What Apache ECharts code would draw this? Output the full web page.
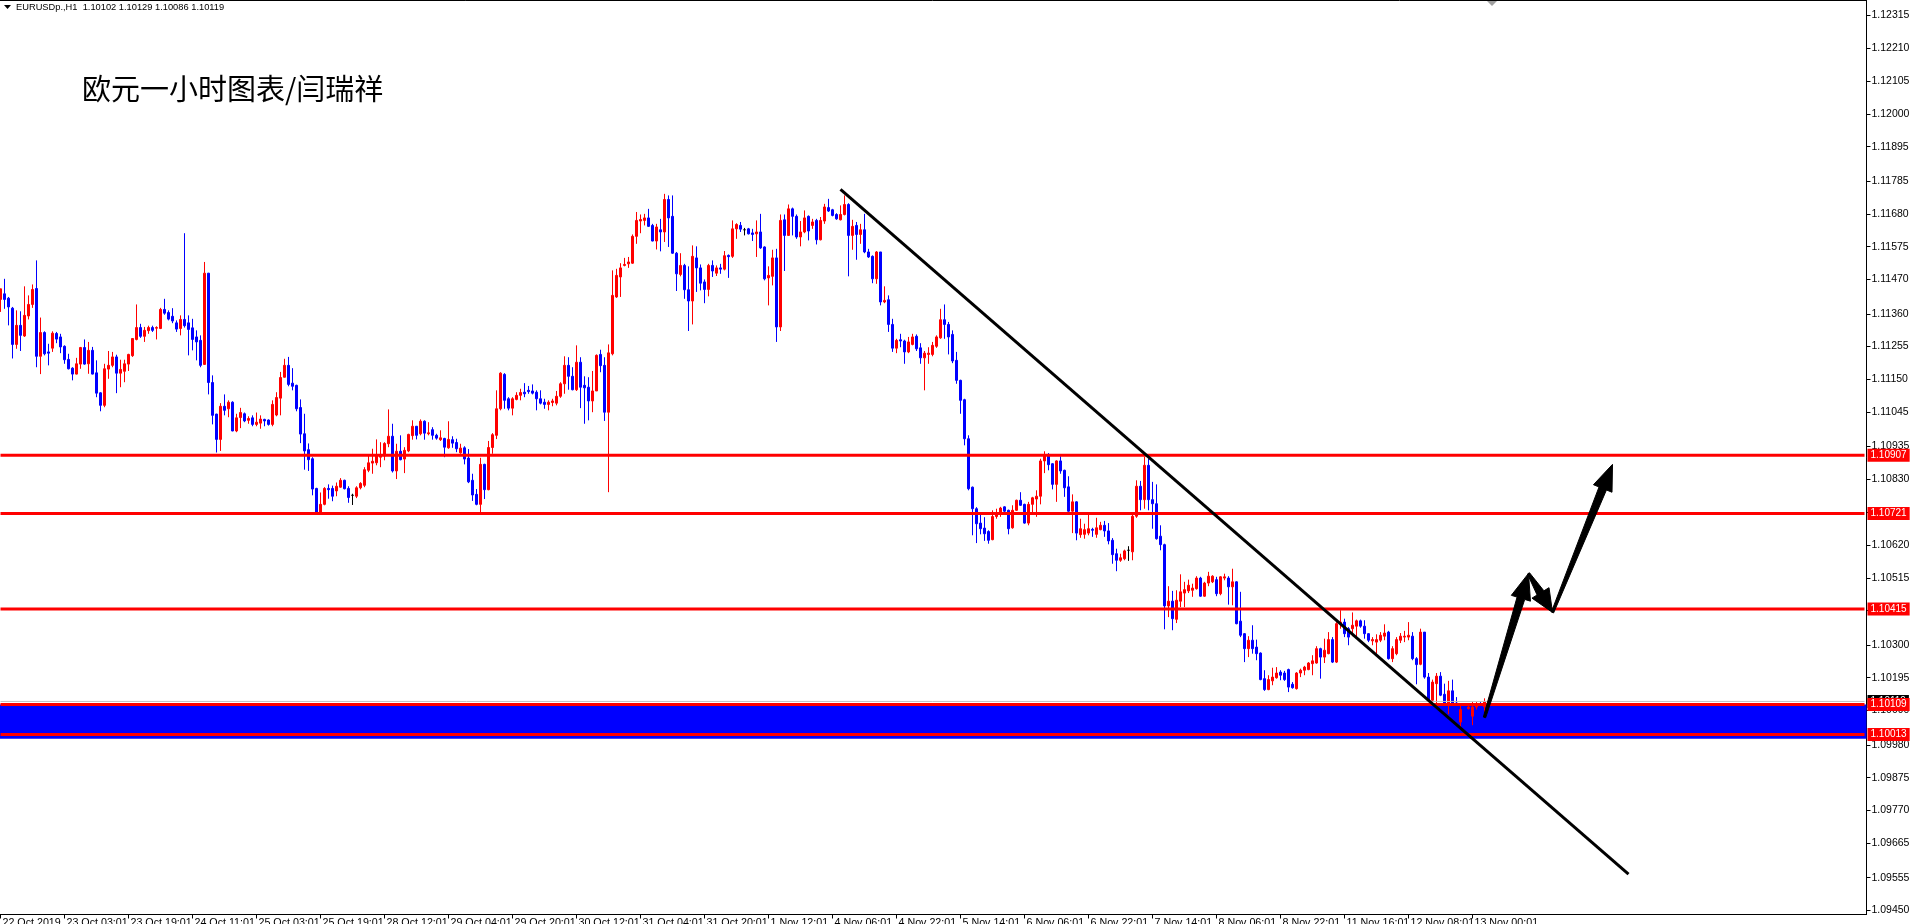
<!DOCTYPE html>
<html><head><meta charset="utf-8">
<script src="https://cdn.jsdelivr.net/npm/echarts@6.0.0/dist/echarts.min.js"></script>
<style>html,body{margin:0;padding:0;background:#fff;overflow:hidden}#c{width:1911px;height:924px}</style>
</head><body><div id="c"></div>
<script>
// ---- data (EURUSD H1) ----
const tickLabels = ['22 Oct 2019','23 Oct 03:01','23 Oct 19:01','24 Oct 11:01','25 Oct 03:01','25 Oct 19:01','28 Oct 12:01','29 Oct 04:01','29 Oct 20:01','30 Oct 12:01','31 Oct 04:01','31 Oct 20:01','1 Nov 12:01','4 Nov 06:01','4 Nov 22:01','5 Nov 14:01','6 Nov 06:01','6 Nov 22:01','7 Nov 14:01','8 Nov 06:01','8 Nov 22:01','11 Nov 16:01','12 Nov 08:01','13 Nov 00:01'];
const yTicks = [1.12315,1.12210,1.12105,1.12000,1.11895,1.11785,1.11680,1.11575,1.11470,1.11360,1.11255,1.11150,1.11045,1.10935,1.10830,1.10725,1.10620,1.10515,1.10410,1.10300,1.10195,1.10090,1.09980,1.09875,1.09770,1.09665,1.09555,1.09450];
const opens = [
1.11406,1.11424,1.11410,1.11378,1.11262,1.11323,1.11289,1.11353,1.11390,1.11441,
1.11224,1.11300,1.11238,1.11250,1.11297,1.11286,1.11256,1.11214,1.11186,1.11167,
1.11199,1.11252,1.11200,1.11243,1.11171,1.11107,1.11067,1.11183,1.11195,1.11222,
1.11170,1.11176,1.11199,1.11226,1.11278,1.11316,1.11288,1.11306,1.11316,1.11314,
1.11313,1.11374,1.11364,1.11352,1.11331,1.11313,1.11342,1.11331,1.11315,1.11286,
1.11275,1.11198,1.11490,1.11140,1.11039,1.10958,1.11064,1.11056,1.11077,1.10985,
1.11028,1.11040,1.11019,1.11027,1.11006,1.11010,1.11022,1.11020,1.11006,1.11036,
1.11090,1.11157,1.11195,1.11138,1.11131,1.11060,1.10976,1.10925,1.10896,1.10801,
1.10720,1.10750,1.10801,1.10801,1.10793,1.10805,1.10827,1.10801,1.10779,1.10776,
1.10803,1.10811,1.10859,1.10882,1.10883,1.10901,1.10905,1.10944,1.10968,1.10857,
1.10920,1.10895,1.10921,1.10970,1.11000,1.10976,1.11016,1.10976,1.10989,1.10971,
1.10957,1.10961,1.10931,1.10957,1.10948,1.10915,1.10931,1.10898,1.10827,1.10782,
1.10750,1.10878,1.10797,1.10932,1.10971,1.11056,1.11166,1.11088,1.11058,1.11086,
1.11099,1.11109,1.11115,1.11113,1.11109,1.11088,1.11077,1.11070,1.11076,1.11074,
1.11096,1.11136,1.11195,1.11160,1.11117,1.11205,1.11131,1.11125,1.11081,1.11113,
1.11230,1.11195,1.11045,1.11232,1.11414,1.11478,1.11515,1.11520,1.11522,1.11608,
1.11657,1.11659,1.11667,1.11643,1.11593,1.11629,1.11622,1.11726,1.11672,1.11554,
1.11486,1.11515,1.11437,1.11401,1.11539,1.11507,1.11462,1.11438,1.11515,1.11490,
1.11507,1.11503,1.11547,1.11544,1.11632,1.11643,1.11629,1.11632,1.11619,1.11616,
1.11622,1.11574,1.11475,1.11480,1.11539,1.11318,1.11661,1.11611,1.11696,1.11672,
1.11606,1.11622,1.11672,1.11643,1.11659,1.11597,1.11657,1.11700,1.11693,1.11678,
1.11661,1.11678,1.11710,1.11611,1.11643,1.11614,1.11629,1.11558,1.11544,1.11472,
1.11558,1.11398,1.11405,1.11326,1.11250,1.11277,1.11273,1.11238,1.11262,1.11288,
1.11251,1.11219,1.11230,1.11230,1.11256,1.11283,1.11341,1.11326,1.11294,1.11211,
1.11147,1.11085,1.10960,1.10805,1.10736,1.10690,1.10674,1.10663,1.10637,1.10711,
1.10722,1.10742,1.10731,1.10675,1.10731,1.10763,1.10750,1.10690,1.10750,1.10767,
1.10776,1.10889,1.10907,1.10880,1.10814,1.10889,1.10859,1.10806,1.10728,1.10758,
1.10653,1.10654,1.10658,1.10670,1.10654,1.10669,1.10683,1.10665,1.10635,1.10592,
1.10571,1.10576,1.10603,1.10598,1.10712,1.10808,1.10765,1.10875,1.10765,1.10752,
1.10648,1.10621,1.10425,1.10440,1.10382,1.10440,1.10466,1.10473,1.10475,1.10480,
1.10514,1.10456,1.10498,1.10502,1.10509,1.10464,1.10514,1.10514,1.10486,1.10502,
1.10376,1.10336,1.10288,1.10315,1.10293,1.10274,1.10192,1.10157,1.10185,1.10195,
1.10213,1.10210,1.10221,1.10174,1.10160,1.10210,1.10219,1.10221,1.10240,1.10242,
1.10288,1.10261,1.10272,1.10317,1.10245,1.10368,1.10373,1.10352,1.10352,1.10360,
1.10377,1.10360,1.10336,1.10313,1.10309,1.10315,1.10328,1.10341,1.10256,1.10272,
1.10315,1.10325,1.10325,1.10328,1.10256,1.10238,1.10341,1.10197,1.10123,1.10176,
1.10200,1.10142,1.10112,1.10153,1.10114,1.10053,1.10101,1.10096,1.10072,1.10101,
1.10112,1.10102];
const closes = [
1.11440,1.11406,1.11382,1.11262,1.11323,1.11291,1.11355,1.11390,1.11438,1.11224,
1.11300,1.11232,1.11234,1.11298,1.11279,1.11254,1.11213,1.11184,1.11167,1.11200,
1.11252,1.11199,1.11243,1.11167,1.11106,1.11067,1.11184,1.11195,1.11222,1.11170,
1.11182,1.11200,1.11230,1.11281,1.11316,1.11288,1.11307,1.11316,1.11307,1.11316,
1.11374,1.11362,1.11343,1.11337,1.11311,1.11342,1.11322,1.11310,1.11278,1.11270,
1.11195,1.11490,1.11140,1.11035,1.10958,1.11064,1.11051,1.11077,1.10985,1.11027,
1.11044,1.11017,1.11025,1.11006,1.11013,1.11023,1.11017,1.11006,1.11070,1.11092,
1.11156,1.11195,1.11134,1.11128,1.11056,1.10975,1.10921,1.10893,1.10799,1.10720,
1.10750,1.10801,1.10797,1.10776,1.10808,1.10827,1.10800,1.10772,1.10779,1.10803,
1.10817,1.10861,1.10883,1.10888,1.10909,1.10905,1.10945,1.10968,1.10857,1.10920,
1.10893,1.10923,1.10974,1.11000,1.10971,1.11016,1.10978,1.10979,1.10971,1.10962,
1.10963,1.10933,1.10958,1.10946,1.10928,1.10930,1.10895,1.10822,1.10780,1.10750,
1.10878,1.10797,1.10932,1.10973,1.11056,1.11170,1.11083,1.11058,1.11088,1.11099,
1.11108,1.11104,1.11111,1.11106,1.11088,1.11074,1.11070,1.11077,1.11081,1.11096,
1.11136,1.11195,1.11160,1.11117,1.11205,1.11125,1.11123,1.11081,1.11113,1.11227,
1.11194,1.11045,1.11235,1.11419,1.11483,1.11507,1.11518,1.11526,1.11608,1.11659,
1.11662,1.11667,1.11640,1.11593,1.11638,1.11622,1.11726,1.11667,1.11554,1.11488,
1.11515,1.11437,1.11401,1.11544,1.11507,1.11458,1.11438,1.11515,1.11497,1.11507,
1.11503,1.11546,1.11543,1.11632,1.11646,1.11631,1.11629,1.11616,1.11614,1.11622,
1.11571,1.11472,1.11483,1.11539,1.11318,1.11659,1.11611,1.11696,1.11672,1.11606,
1.11622,1.11667,1.11625,1.11654,1.11597,1.11659,1.11702,1.11689,1.11675,1.11664,
1.11678,1.11710,1.11611,1.11640,1.11614,1.11629,1.11558,1.11542,1.11472,1.11558,
1.11398,1.11403,1.11326,1.11250,1.11275,1.11273,1.11238,1.11270,1.11286,1.11248,
1.11219,1.11234,1.11234,1.11259,1.11286,1.11341,1.11326,1.11286,1.11209,1.11147,
1.11083,1.10960,1.10800,1.10736,1.10688,1.10672,1.10656,1.10635,1.10711,1.10722,
1.10738,1.10728,1.10672,1.10731,1.10763,1.10747,1.10690,1.10750,1.10771,1.10776,
1.10889,1.10907,1.10877,1.10814,1.10889,1.10857,1.10803,1.10728,1.10758,1.10658,
1.10672,1.10669,1.10672,1.10667,1.10675,1.10683,1.10665,1.10633,1.10589,1.10571,
1.10579,1.10601,1.10603,1.10712,1.10808,1.10765,1.10875,1.10765,1.10752,1.10640,
1.10621,1.10425,1.10440,1.10384,1.10443,1.10470,1.10477,1.10491,1.10482,1.10514,
1.10456,1.10498,1.10520,1.10520,1.10464,1.10518,1.10518,1.10486,1.10502,1.10368,
1.10331,1.10288,1.10315,1.10288,1.10272,1.10189,1.10157,1.10189,1.10197,1.10210,
1.10203,1.10189,1.10165,1.10163,1.10210,1.10219,1.10229,1.10242,1.10249,1.10288,
1.10261,1.10283,1.10317,1.10245,1.10368,1.10373,1.10336,1.10325,1.10363,1.10377,
1.10360,1.10336,1.10315,1.10317,1.10317,1.10331,1.10338,1.10256,1.10288,1.10317,
1.10328,1.10328,1.10331,1.10256,1.10237,1.10341,1.10197,1.10123,1.10181,1.10200,
1.10139,1.10112,1.10153,1.10112,1.10101,1.10093,1.10093,1.10101,1.10101,1.10107,
1.10107,1.10119];
const lows = [
1.11366,1.11376,1.11323,1.11217,1.11248,1.11241,1.11286,1.11342,1.11379,1.11189,
1.11167,1.11227,1.11195,1.11238,1.11266,1.11234,1.11200,1.11182,1.11147,1.11166,
1.11184,1.11197,1.11168,1.11166,1.11093,1.11048,1.11061,1.11152,1.11189,1.11106,
1.11125,1.11141,1.11177,1.11222,1.11275,1.11283,1.11270,1.11296,1.11302,1.11278,
1.11311,1.11357,1.11339,1.11330,1.11302,1.11291,1.11316,1.11227,1.11243,1.11211,
1.11189,1.11197,1.11102,1.11006,1.10916,1.10921,1.11035,1.11029,1.10984,1.10981,
1.10994,1.11013,1.11008,1.11000,1.11000,1.10992,1.11000,1.11002,1.11000,1.11032,
1.11035,1.11156,1.11128,1.11115,1.11048,1.10946,1.10861,1.10857,1.10779,1.10716,
1.10719,1.10747,1.10768,1.10760,1.10776,1.10803,1.10798,1.10755,1.10748,1.10770,
1.10798,1.10805,1.10853,1.10848,1.10875,1.10869,1.10891,1.10933,1.10852,1.10831,
1.10891,1.10850,1.10917,1.10957,1.10958,1.10971,1.10957,1.10971,1.10957,1.10957,
1.10953,1.10901,1.10928,1.10931,1.10917,1.10912,1.10878,1.10818,1.10761,1.10747,
1.10725,1.10767,1.10795,1.10912,1.10959,1.11051,1.11056,1.11051,1.11035,1.11083,
1.11083,1.11093,1.11104,1.11102,1.11051,1.11070,1.11056,1.11051,1.11064,1.11067,
1.11091,1.11104,1.11117,1.11115,1.11113,1.11058,1.11008,1.11019,1.11045,1.11113,
1.11173,1.11017,1.10789,1.11227,1.11411,1.11414,1.11512,1.11507,1.11520,1.11584,
1.11618,1.11643,1.11638,1.11592,1.11566,1.11560,1.11590,1.11574,1.11552,1.11433,
1.11480,1.11408,1.11305,1.11326,1.11430,1.11435,1.11394,1.11416,1.11478,1.11481,
1.11488,1.11499,1.11475,1.11539,1.11600,1.11622,1.11611,1.11614,1.11593,1.11542,
1.11568,1.11467,1.11387,1.11451,1.11270,1.11305,1.11497,1.11609,1.11611,1.11600,
1.11576,1.11618,1.11595,1.11632,1.11582,1.11595,1.11648,1.11686,1.11672,1.11661,
1.11659,1.11675,1.11480,1.11565,1.11533,1.11584,1.11554,1.11539,1.11458,1.11456,
1.11387,1.11394,1.11302,1.11238,1.11234,1.11253,1.11200,1.11234,1.11259,1.11241,
1.11200,1.11115,1.11200,1.11224,1.11251,1.11280,1.11280,1.11230,1.11202,1.11136,
1.11040,1.10939,1.10795,1.10651,1.10626,1.10654,1.10633,1.10624,1.10635,1.10704,
1.10710,1.10723,1.10654,1.10672,1.10729,1.10745,1.10688,1.10683,1.10718,1.10710,
1.10750,1.10850,1.10859,1.10798,1.10758,1.10848,1.10774,1.10726,1.10658,1.10635,
1.10643,1.10640,1.10651,1.10646,1.10643,1.10667,1.10646,1.10622,1.10560,1.10536,
1.10566,1.10571,1.10569,1.10571,1.10707,1.10731,1.10736,1.10731,1.10672,1.10637,
1.10603,1.10350,1.10389,1.10347,1.10370,1.10421,1.10421,1.10466,1.10454,1.10477,
1.10454,1.10454,1.10488,1.10498,1.10456,1.10459,1.10507,1.10429,1.10427,1.10366,
1.10325,1.10245,1.10261,1.10272,1.10251,1.10187,1.10153,1.10155,1.10171,1.10192,
1.10187,1.10185,1.10149,1.10160,1.10157,1.10197,1.10203,1.10219,1.10203,1.10240,
1.10192,1.10242,1.10270,1.10242,1.10242,1.10352,1.10325,1.10299,1.10328,1.10325,
1.10355,1.10320,1.10309,1.10299,1.10272,1.10309,1.10315,1.10253,1.10245,1.10267,
1.10306,1.10309,1.10315,1.10251,1.10174,1.10235,1.10192,1.10121,1.10112,1.10112,
1.10136,1.10112,1.10078,1.10091,1.10078,1.10035,1.10085,1.10093,1.10043,1.10093,
1.10101,1.10086];
const highs = [
1.11440,1.11472,1.11414,1.11382,1.11371,1.11368,1.11448,1.11419,1.11454,1.11531,
1.11348,1.11304,1.11264,1.11304,1.11302,1.11296,1.11259,1.11232,1.11189,1.11219,
1.11254,1.11278,1.11270,1.11254,1.11211,1.11109,1.11200,1.11241,1.11238,1.11229,
1.11213,1.11213,1.11232,1.11282,1.11390,1.11328,1.11318,1.11322,1.11322,1.11320,
1.11379,1.11408,1.11371,1.11378,1.11339,1.11355,1.11618,1.11355,1.11344,1.11307,
1.11291,1.11526,1.11491,1.11163,1.11040,1.11074,1.11102,1.11083,1.11080,1.11040,
1.11059,1.11044,1.11032,1.11035,1.11044,1.11035,1.11024,1.11022,1.11083,1.11109,
1.11174,1.11216,1.11222,1.11186,1.11133,1.11086,1.11040,1.10945,1.10901,1.10803,
1.10788,1.10805,1.10814,1.10810,1.10820,1.10834,1.10829,1.10808,1.10784,1.10808,
1.10821,1.10869,1.10907,1.10928,1.10958,1.10949,1.10949,1.11054,1.11008,1.10944,
1.10971,1.10933,1.10976,1.11019,1.11001,1.11022,1.11019,1.11013,1.10997,1.10976,
1.10987,1.10963,1.11016,1.10968,1.10960,1.10944,1.10936,1.10927,1.10848,1.10799,
1.10899,1.10880,1.10953,1.10978,1.11115,1.11173,1.11170,1.11093,1.11093,1.11109,
1.11120,1.11138,1.11129,1.11134,1.11115,1.11115,1.11088,1.11083,1.11088,1.11113,
1.11141,1.11224,1.11221,1.11189,1.11259,1.11221,1.11160,1.11157,1.11177,1.11230,
1.11245,1.11221,1.11262,1.11499,1.11504,1.11522,1.11539,1.11542,1.11614,1.11686,
1.11678,1.11680,1.11696,1.11648,1.11648,1.11664,1.11744,1.11739,1.11739,1.11558,
1.11554,1.11520,1.11512,1.11579,1.11576,1.11518,1.11470,1.11520,1.11531,1.11515,
1.11520,1.11561,1.11550,1.11659,1.11650,1.11654,1.11635,1.11635,1.11632,1.11659,
1.11680,1.11576,1.11512,1.11565,1.11568,1.11678,1.11678,1.11710,1.11700,1.11678,
1.11657,1.11691,1.11675,1.11664,1.11664,1.11670,1.11712,1.11728,1.11696,1.11682,
1.11707,1.11739,1.11714,1.11661,1.11654,1.11648,1.11680,1.11568,1.11547,1.11561,
1.11558,1.11448,1.11419,1.11344,1.11280,1.11296,1.11277,1.11286,1.11296,1.11294,
1.11266,1.11241,1.11253,1.11270,1.11291,1.11376,1.11390,1.11334,1.11307,1.11238,
1.11149,1.11088,1.10971,1.10807,1.10741,1.10720,1.10709,1.10667,1.10731,1.10736,
1.10742,1.10744,1.10733,1.10747,1.10765,1.10789,1.10752,1.10758,1.10774,1.10795,
1.10896,1.10920,1.10914,1.10882,1.10891,1.10904,1.10861,1.10840,1.10782,1.10760,
1.10704,1.10688,1.10718,1.10675,1.10707,1.10694,1.10697,1.10690,1.10642,1.10608,
1.10592,1.10605,1.10616,1.10718,1.10827,1.10825,1.10902,1.10896,1.10822,1.10814,
1.10683,1.10624,1.10488,1.10473,1.10475,1.10526,1.10502,1.10509,1.10496,1.10520,
1.10518,1.10502,1.10534,1.10523,1.10518,1.10520,1.10528,1.10520,1.10544,1.10504,
1.10470,1.10338,1.10328,1.10363,1.10317,1.10276,1.10219,1.10203,1.10227,1.10229,
1.10219,1.10217,1.10224,1.10181,1.10213,1.10224,1.10233,1.10245,1.10267,1.10296,
1.10291,1.10320,1.10341,1.10325,1.10373,1.10411,1.10384,1.10357,1.10404,1.10381,
1.10381,1.10379,1.10338,1.10325,1.10334,1.10341,1.10366,1.10345,1.10296,1.10325,
1.10338,1.10345,1.10373,1.10341,1.10261,1.10352,1.10341,1.10210,1.10189,1.10210,
1.10213,1.10176,1.10185,1.10189,1.10133,1.10107,1.10107,1.10104,1.10117,1.10117,
1.10117,1.10129];
const levels = [1.10907, 1.10721, 1.10415, 1.10109, 1.10013];
const zone = [1.10000, 1.10109];
const bidPrice = 1.10119;
const trendLine = [[210, 1.11758], [407, 1.09566]];
const arrowSegments = [[371, 1.10068, 382, 1.10529], [382, 1.10529, 388, 1.10404], [388, 1.10404, 403, 1.10878]];
const header = 'EURUSDp.,H1  1.10102 1.10129 1.10086 1.10119';
const chartTitle = '欧元一小时图表/闫瑞祥';
const yMin = 1.09437, yMax = 1.12363;
const SLOTS = 467;

// ---- build ----
const categories = Array.from({length: SLOTS}, (_, i) => String(i));
const candles = opens.map((o, i) => [o, closes[i], lows[i], highs[i]]);
const isTick = (i) => i % 16 === 0 && (i / 16) < tickLabels.length;
const FONT = 'Liberation Sans';

function hLine(value, color, width, labelBg, z) {
  return {
    type: 'line', data: [[0, value], [SLOTS - 1, value]], showSymbol: false, symbol: 'none',
    silent: true, z: z, clip: false, animation: false,
    lineStyle: {color: color, width: width, type: 'solid'},
    endLabel: {show: true, distance: 3, formatter: () => value.toFixed(5), color: '#fff',
      backgroundColor: labelBg, padding: [2, 3, 1, 3], fontSize: 10, fontFamily: FONT}
  };
}

const chart = echarts.init(document.getElementById('c'), null, {renderer: 'canvas'});
chart.setOption({
  animation: false,
  backgroundColor: '#fff',
  grid: {left: -1.5, right: 44.5, top: 0.5, bottom: 9.5, show: true, borderColor: '#000', borderWidth: 1, backgroundColor: '#fff', containLabel: false, outerBoundsMode: 'none'},
  xAxis: {
    type: 'category', data: categories, boundaryGap: true,
    axisLine: {show: true, lineStyle: {color: '#000', width: 1}},
    axisTick: {show: true, alignWithLabel: true, interval: (i) => isTick(i), length: 4, lineStyle: {color: '#000'}},
    axisLabel: {show: true, interval: (i) => isTick(i), formatter: (v, i) => tickLabels[i / 16] || '', align: 'left', margin: 3, padding: [0, 0, 0, 2], color: '#000', fontSize: 10.7, fontFamily: FONT, hideOverlap: false},
    splitLine: {show: false}
  },
  yAxis: {
    type: 'value', position: 'right', min: yMin, max: yMax,
    axisLine: {show: true, lineStyle: {color: '#000'}},
    axisTick: {show: true, customValues: yTicks, length: 4, lineStyle: {color: '#000'}},
    axisLabel: {show: true, customValues: yTicks, formatter: (v) => Number(v).toFixed(5), margin: 5, color: '#000', fontSize: 10.5, fontFamily: FONT},
    splitLine: {show: false}
  },
  series: [
    {
      type: 'candlestick', data: candles, barWidth: 2, z: 2,
      itemStyle: {color: '#FF0000', color0: '#0000FF', borderColor: '#FF0000', borderColor0: '#0000FF', borderColorDoji: '#000000', borderWidth: 1},
      markArea: {silent: true, z: 1, itemStyle: {color: '#0000FF', opacity: 1}, data: [[{yAxis: zone[1]}, {yAxis: zone[0]}]]}
    },
    hLine(bidPrice, '#C0C0C0', 1, '#000', 4),
    ...levels.map(v => hLine(v, '#FF0000', 3, '#FF0000', 5)),
    {
      type: 'line', data: trendLine, showSymbol: false, silent: true, z: 6,
      lineStyle: {color: '#000', width: 3}
    },
    {
      type: 'custom', data: arrowSegments, silent: true, z: 7, clip: false,
      encode: {x: [0, 2], y: [1, 3]},
      renderItem: (params, api) => {
        const t = api.coord([api.value(0), api.value(1)]);
        const h = api.coord([api.value(2), api.value(3)]);
        const dx = h[0] - t[0], dy = h[1] - t[1];
        const L = Math.hypot(dx, dy), ux = dx / L, uy = dy / L, nx = -uy, ny = ux;
        const hl = Math.min(26, L * 0.5), hw = 10, sw = 4, tw = 1.2;
        const bx = h[0] - ux * hl, by = h[1] - uy * hl;
        const pts = [
          [t[0] + nx * tw, t[1] + ny * tw], [bx + nx * sw, by + ny * sw], [bx + nx * hw, by + ny * hw],
          [h[0], h[1]],
          [bx - nx * hw, by - ny * hw], [bx - nx * sw, by - ny * sw], [t[0] - nx * tw, t[1] - ny * tw]
        ];
        return {type: 'polygon', shape: {points: pts}, style: {fill: '#000', stroke: '#000', lineWidth: 1}};
      }
    }
  ],
  graphic: [
    {type: 'polygon', shape: {points: [[4, 5], [11, 5], [7.5, 9]]}, style: {fill: '#000'}, z: 20},
    {type: 'text', left: 16, top: 3, style: {text: header, fill: '#000', font: '9.3px "Liberation Sans"'}, z: 20},
    {type: 'text', left: 82, top: 74, style: {text: chartTitle, fill: '#000', font: '29px "Noto Sans CJK SC"'}, z: 20},
    {type: 'polygon', shape: {points: [[1487, 1], [1497, 1], [1492, 6]]}, style: {fill: '#A0A0A0'}, z: 20}
  ]
});
</script>
</body></html>
